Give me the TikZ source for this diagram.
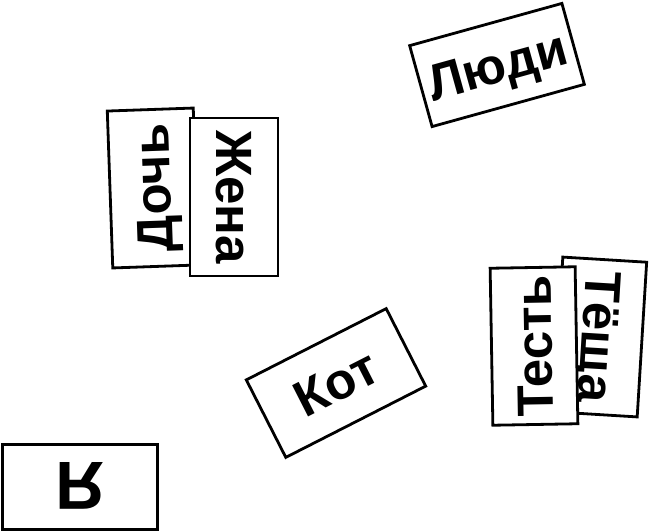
\documentclass[tikz,border=0pt]{standalone}
\usepackage{fontspec}
\setmainfont{Liberation Sans}
\usetikzlibrary{positioning}

\tikzset{card/.style={draw, line width=2.8pt, fill=white, inner sep=0pt,
    minimum width=157pt, minimum height=86pt, text height=36pt, text depth=0pt,
    font=\bfseries\fontsize{51}{51}\selectfont}}

\begin{document}
\begin{tikzpicture}[x=1pt,y=-1pt]
\useasboundingbox (0,0) rectangle (650,532);
% pairs of cards, the one drawn later lies on top
\node[card, rotate=92] (doch) at (153,188) {Дочь};
\node[card, rotate=-90, minimum width=158pt, minimum height=88pt] (zhena) at (234,197) {Жена};
\node[card, rotate=-93.5, minimum width=155pt, minimum height=84pt] (tyoshcha) at (600,337) {Тёща};
\node[card, rotate=91, minimum height=85pt] (test) at (534,346) {Тесть};
\node[card, rotate=15.5, minimum width=158pt, minimum height=84pt] (lyudi) at (497,65) {Люди};
\node[card, rotate=27, minimum height=87pt] (kot) at (336,383) {Кот};
\node[card, rotate=180, minimum width=155pt, minimum height=85pt, text height=49pt,
      font=\bfseries\fontsize{68}{68}\selectfont] (ya) at (80,487) {Я};
\end{tikzpicture}
\end{document}
